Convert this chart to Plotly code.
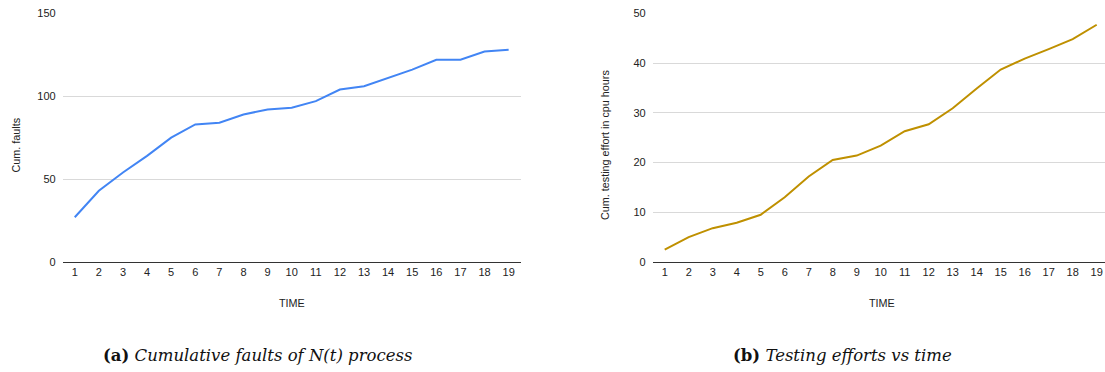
import plotly.graph_objects as go

time = list(range(1, 20))
cum_faults = [27, 43, 54, 64, 75, 83, 84, 89, 92, 93, 97, 104, 106, 111, 116, 122, 122, 127, 128]
cum_effort = [2.5, 5.0, 6.8, 7.9, 9.5, 13.0, 17.2, 20.5, 21.4, 23.4, 26.3, 27.7, 30.9, 34.9, 38.7, 40.9, 42.8, 44.8, 47.7]
y1_ticks = [0, 50, 100, 150]
y2_ticks = [0, 10, 20, 30, 40, 50]

W, H = 1105, 372
def px(x): return x / W
def py(y): return 1 - y / H

fig = go.Figure()
fig.add_trace(go.Scatter(x=time, y=cum_faults, mode="lines",
                         line=dict(color="#4285F4", width=2), xaxis="x", yaxis="y", showlegend=False))
fig.add_trace(go.Scatter(x=time, y=cum_effort, mode="lines",
                         line=dict(color="#BF9000", width=2), xaxis="x2", yaxis="y2", showlegend=False))

tickfont = dict(family="Liberation Sans, Arial", size=11, color="#222222")
common_x = dict(tickmode="array", tickvals=time, ticktext=[str(t) for t in time],
                showgrid=False, zeroline=False, showline=True, linecolor="#333333", linewidth=1,
                ticks="", tickfont=tickfont, fixedrange=True, automargin=False)
common_y = dict(tickmode="array", showgrid=True, gridcolor="#d9d9d9", gridwidth=1,
                zeroline=False, showline=False, ticks="", tickfont=tickfont, ticklabelstandoff=6,
                automargin=False, fixedrange=True)

fig.update_layout(
    width=W, height=H, margin=dict(l=0, r=0, t=0, b=0, pad=0, autoexpand=False),
    paper_bgcolor="white", plot_bgcolor="white",
    xaxis=dict(domain=[px(62.7), px(520.7)], range=[0.5, 19.5], anchor="y", **common_x),
    yaxis=dict(domain=[py(262), py(13.3)], range=[0, 150], tickvals=y1_ticks, anchor="x", **common_y),
    xaxis2=dict(domain=[px(652.7), 1.0], range=[0.5, 0.5 + (W - 652.7) / 24.0], anchor="y2", **common_x),
    yaxis2=dict(domain=[py(262), py(13.3)], range=[0, 50], tickvals=y2_ticks, anchor="x2", **common_y),
)

lab = dict(family="Liberation Sans, Arial", size=10.8, color="#222222")
cap = dict(family="DejaVu Serif", size=16.5, color="#111111")
ann = [
    dict(x=px(15.5), y=py(145), text="Cum. faults", textangle=-90, font=lab),
    dict(x=px(605), y=py(145), text="Cum. testing effort in cpu hours", textangle=-90, font=lab),
    dict(x=px(291.7), y=py(303), text="TIME", font=lab),
    dict(x=px(882), y=py(303), text="TIME", font=lab),
    dict(x=px(257), y=py(355), text="<b>(a)</b> <i>Cumulative faults of N(t) process</i>", font=cap),
    dict(x=px(842), y=py(355), text="<b>(b)</b> <i>Testing efforts vs time</i>", font=cap),
]
for a in ann:
    a.update(xref="paper", yref="paper", showarrow=False, xanchor="center", yanchor="middle")
fig.update_layout(annotations=ann)

fig.write_html("out.html", config={"displayModeBar": False},
               post_script="document.body.style.margin='0';document.body.style.padding='0';document.body.style.overflow='hidden';")
